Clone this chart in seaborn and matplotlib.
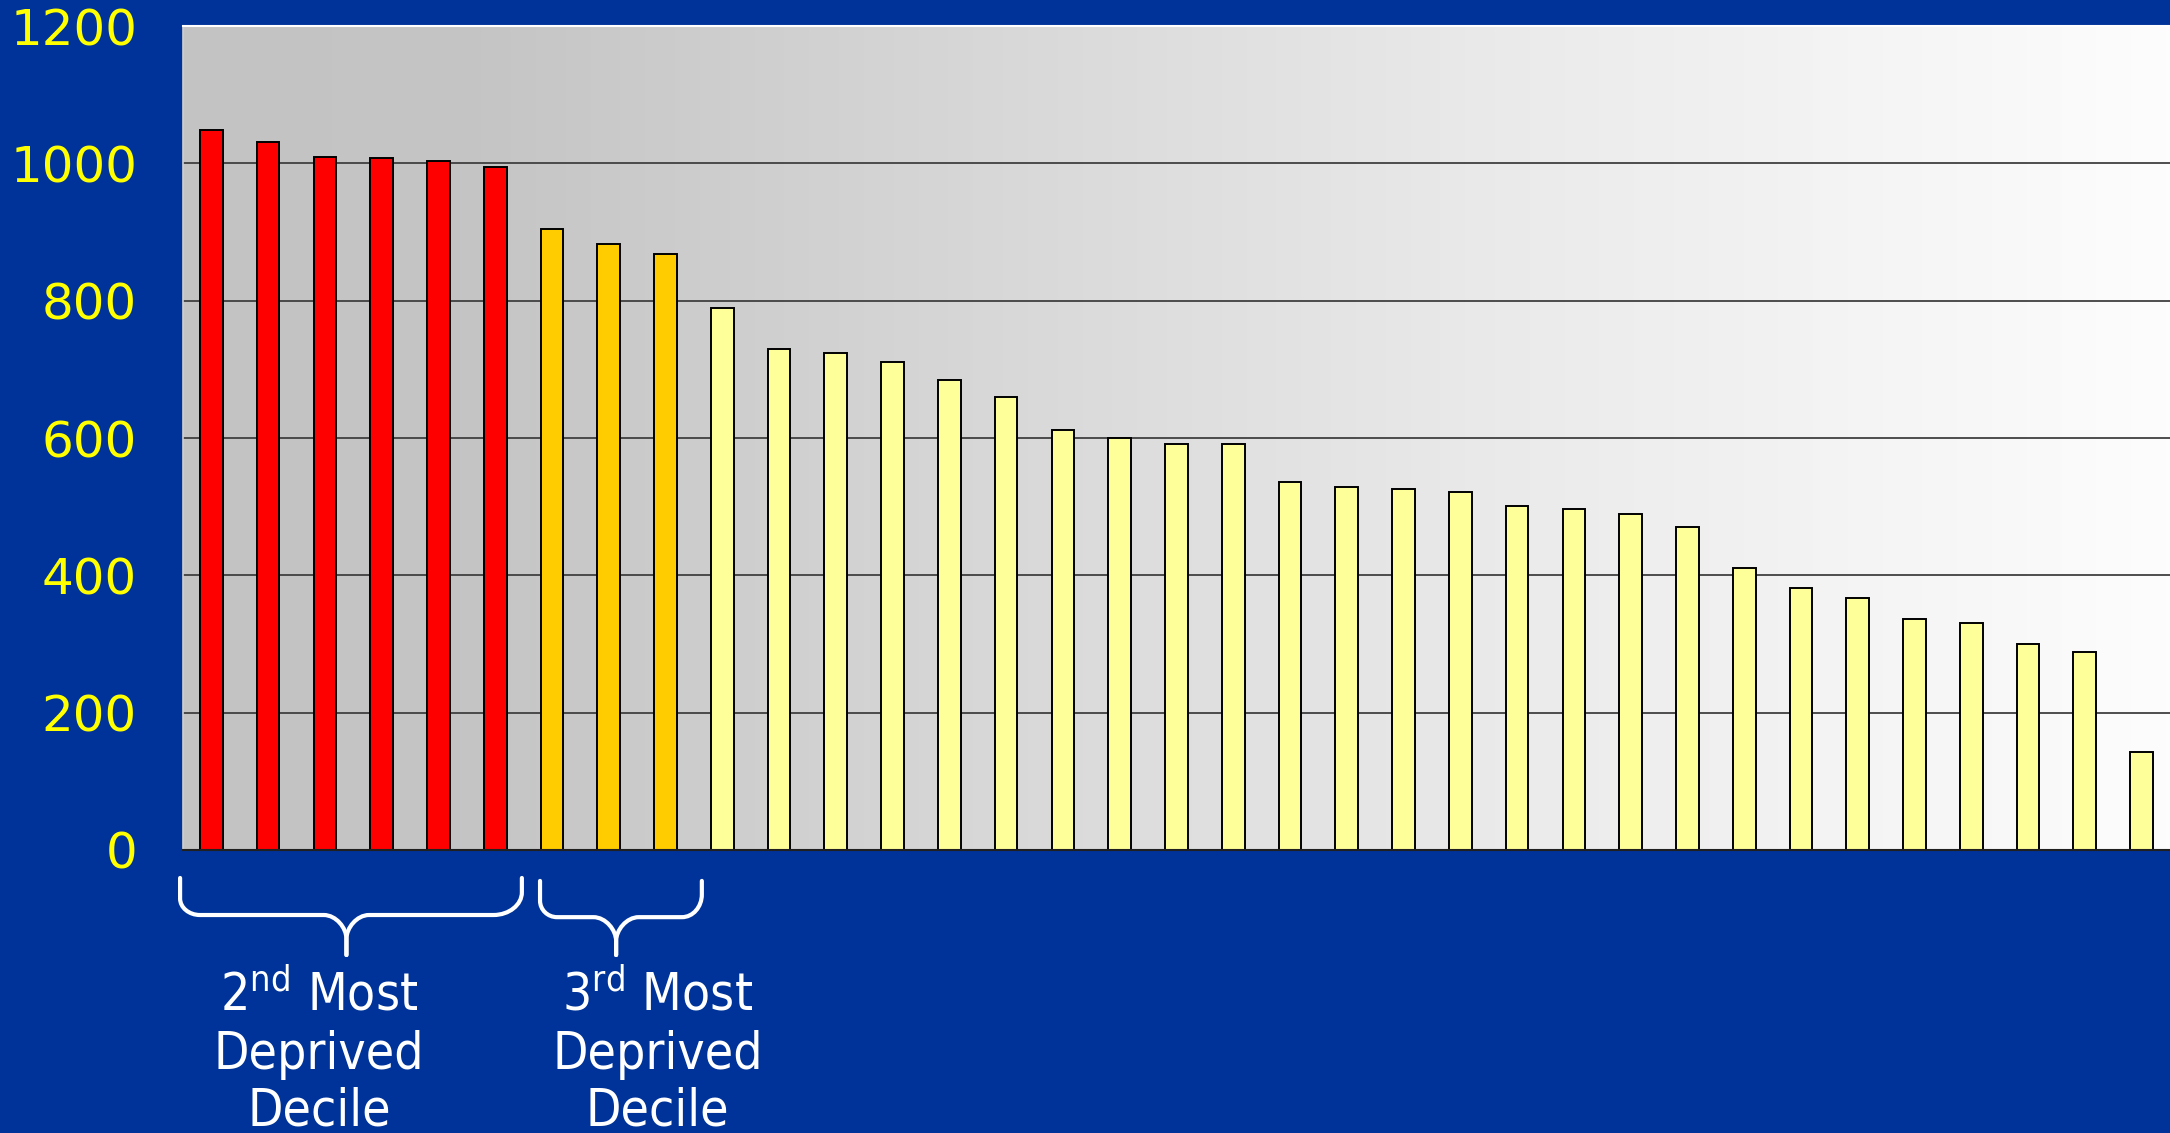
import numpy as np
import pandas as pd
import matplotlib
matplotlib.use("Agg")
import matplotlib.pyplot as plt
import matplotlib.transforms as mtransforms
from matplotlib.path import Path
from matplotlib.patches import PathPatch
import seaborn as sns

# bar values, sorted high to low
values = [1049, 1031, 1010, 1008, 1004, 994,
          905, 882, 868,
          790, 729, 724, 710, 685, 660, 612, 600, 592, 592, 536,
          529, 526, 522, 501, 496, 490, 470, 410, 381, 367, 337,
          330, 300, 289, 142]
groups = ["2nd"] * 6 + ["3rd"] * 3 + ["other"] * 26
yticks = [0, 200, 400, 600, 800, 1000, 1200]
palette = {"2nd": "#FF0000", "3rd": "#FFCC00", "other": "#FFFF99"}

df = pd.DataFrame({"area": [str(i + 1) for i in range(len(values))],
                   "value": values, "group": groups})

sns.set_style("white")
plt.rcParams["font.family"] = ["DejaVu Sans"]

bg = "#003399"
fig = plt.figure(figsize=(21.7, 11.33), dpi=100, facecolor=bg)
ax = fig.add_axes([0.0843, 0.2498, 0.9157, 0.7272])

# gray-to-white gradient behind the bars
xs = np.linspace(0, 1, 400)
shade = np.interp(xs, [0, 0.15, 0.66, 1.0], [195, 197, 234, 253]) / 255
grad = np.stack([shade, shade, shade], axis=-1)[None, :, :]
ax.imshow(grad, extent=[-0.5, len(values) - 0.5, 0, 1200],
          aspect="auto", zorder=0)

sns.barplot(data=df, x="area", y="value", hue="group", palette=palette,
            dodge=False, width=0.4, edgecolor="black", linewidth=1.4,
            saturation=1, legend=False, ax=ax, zorder=3)

ax.set_xlim(-0.5, len(values) - 0.5)
ax.set_ylim(0, 1200)
ax.set_yticks(yticks)
ax.set_yticklabels([str(t) for t in yticks], color="#FFFF00", fontsize=36)
ax.tick_params(axis="y", length=14, width=1.5, color="black", pad=19)
ax.tick_params(axis="x", length=0, labelbottom=False)
ax.set_xlabel("")
ax.set_ylabel("")
for t in yticks[1:-1]:
    ax.axhline(t, color="#404040", lw=1.3, zorder=1)

ax.spines["right"].set_visible(False)
ax.spines["top"].set_color("white")
ax.spines["top"].set_linewidth(1.5)
ax.spines["left"].set_color("#D0D0D0")
ax.spines["left"].set_linewidth(1.2)
ax.spines["bottom"].set_color("#202020")
ax.spines["bottom"].set_linewidth(1.5)
ax.spines["bottom"].set_zorder(5)

# curly braces under the bars
trans = mtransforms.blended_transform_factory(ax.transData, fig.transFigure)


def half_brace(xe, tip, ytop, yh, ytip, cx, cy, r2, ty):
    # one half: from the outer end down, across, into the tip
    s = 1 if tip > xe else -1
    verts = [(xe, ytop), (xe, yh + cy),
             (xe, yh + cy * 0.45), (xe + s * cx * 0.45, yh), (xe + s * cx, yh),
             (tip - s * r2, yh),
             (tip - s * r2 * 0.45, yh), (tip, yh - ty * 0.55), (tip, yh - ty),
             (tip, ytip)]
    codes = [Path.MOVETO, Path.LINETO,
             Path.CURVE4, Path.CURVE4, Path.CURVE4,
             Path.LINETO,
             Path.CURVE4, Path.CURVE4, Path.CURVE4,
             Path.LINETO]
    fig.add_artist(PathPatch(Path(verts, codes), transform=trans, fill=False,
                             edgecolor="white", lw=3, clip_on=False,
                             capstyle="round", joinstyle="round"))


def brace(x0, x1, tip, ytop, yh, ytip, cl, cr, r2):
    half_brace(x0, tip, ytop, yh, ytip, cl, 0.0145, r2, 0.021)
    half_brace(x1, tip, ytop, yh, ytip, cr, 0.0200, r2, 0.021)


brace(-0.55, 5.47, 2.38, 0.2251, 0.1924, 0.1571, 0.35, 0.5, 0.4)
brace(5.79, 8.64, 7.13, 0.2225, 0.1905, 0.1571, 0.3, 0.35, 0.4)

label_font = dict(color="white", fontsize=37, ha="center", va="center",
                  fontstretch="condensed", family="DejaVu Sans")
for x, first in [(1.9, r"2$^{\mathregular{nd}}$ Most"),
                 (7.86, r"3$^{\mathregular{rd}}$ Most")]:
    fig.text(x, 1 - 996 / 1133, first, transform=trans, **label_font)
    fig.text(x, 1 - 1055 / 1133, "Deprived", transform=trans, **label_font)
    fig.text(x, 1 - 1111 / 1133, "Decile", transform=trans, **label_font)

fig.savefig("out.png", dpi=100, facecolor=bg)
